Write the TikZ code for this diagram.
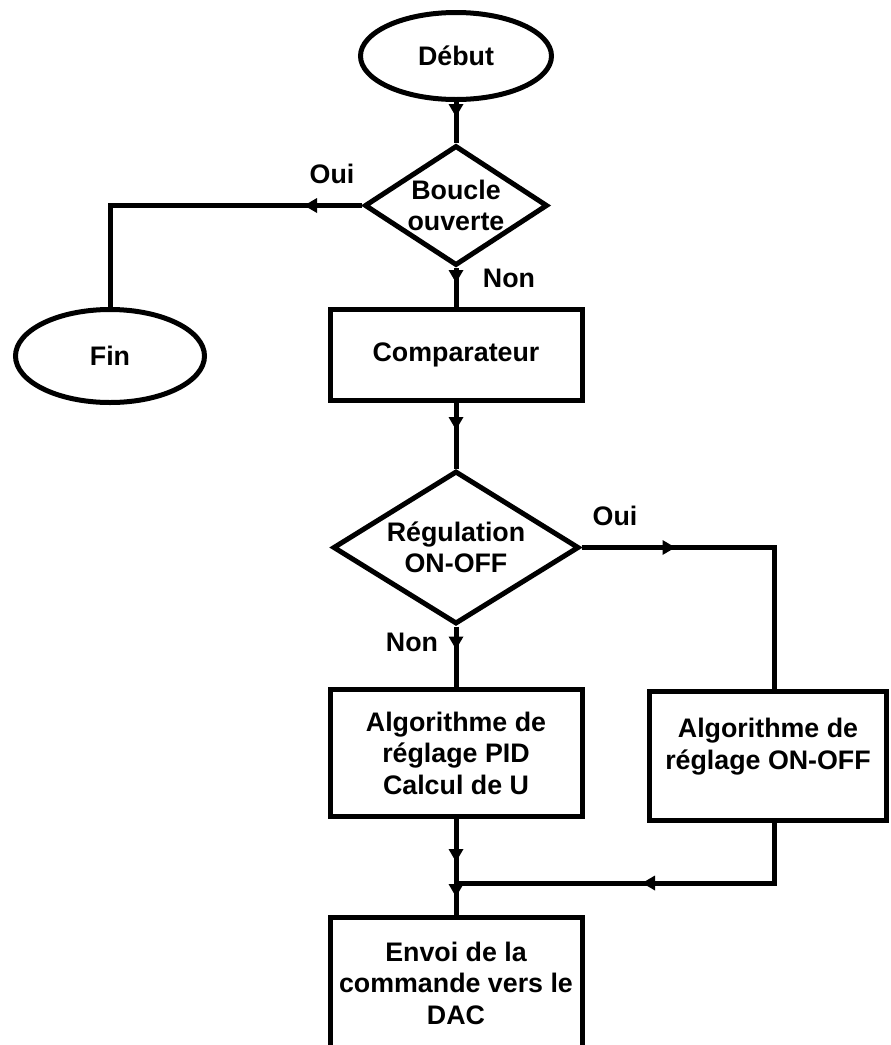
\documentclass[tikz,border=0pt]{standalone}
\usepackage{fontspec}
\setmainfont{Liberation Sans}
\usetikzlibrary{shapes.geometric,arrows.meta,decorations.markings}

\begin{document}
\begin{tikzpicture}[x=1pt,y=-1pt,
  line width=5pt,
  font=\bfseries\fontsize{26.8}{31.5}\selectfont,
  box/.style={draw, rectangle, inner sep=0pt, align=center},
  oval/.style={draw, ellipse, inner sep=0pt},
  choice/.style={draw, diamond, inner sep=0pt},
  tag/.style={inner sep=0pt},
  flow/.style={postaction={decorate, decoration={markings,
      mark=at position #1 with {\arrow{Triangle[width=14pt,length=13pt]}}}}},
]
\useasboundingbox (0,0) rectangle (891,1045);

% start / end
\node[oval, minimum width=191pt, minimum height=87pt] (debut) at (456,56) {Début};
\node[oval, minimum width=189pt, minimum height=93pt] (fin) at (110,356) {Fin};

% first test
\node[choice, minimum width=183pt, minimum height=120pt,
      label={[align=center]center:Boucle\\ouverte}] (d1) at (456,205.5) {};

\node[box, minimum width=252pt, minimum height=91pt] (comp) at (456,355) {Comparateur};

% second test
\node[choice, minimum width=246pt, minimum height=153pt,
      label={[align=center]center:Régulation\\ON-OFF}] (d2) at (456,547.5) {};

\node[box, minimum width=252pt, minimum height=127pt] (pid) at (456,753)
  {Algorithme de\\réglage PID\\Calcul de U};
\node[box, minimum width=237pt, minimum height=129pt,
      label={[align=center, yshift=9.5pt]center:Algorithme de\\réglage ON-OFF}] (onoff) at (768,756) {};

\node[box, minimum width=252pt, minimum height=131pt] (envoi) at (456,983)
  {Envoi de la\\commande vers le\\DAC};

% branch labels
\node[tag] (oui1) at (332,174) {Oui};
\node[tag] (non1) at (509,278) {Non};
\node[tag] (oui2) at (615,516) {Oui};
\node[tag] (non2) at (412,642) {Non};

% routing points
\coordinate (c1) at (774,547.5);
\coordinate (j) at (456,883);

% connectors
\draw[flow=15pt] (debut.south) -- (d1.north);
\draw[flow=15pt] (d1.south) -- (comp.north);
\draw[flow=58pt] (d1.west) -| (fin.north);
\draw[flow=27pt] (comp.south) -- (d2.north);
\draw[flow=23pt] (d2.south) -- (pid.north);
\draw[flow=94pt] (d2.east) -- (c1) -- (c1 |- onoff.north);
\draw[flow=43pt] (pid.south) -- (j);
\draw[flow=192pt] (c1 |- onoff.south) -- (c1 |- j) -- (j);
\draw[flow=14pt] (j) -- (envoi.north);
\end{tikzpicture}
\end{document}
